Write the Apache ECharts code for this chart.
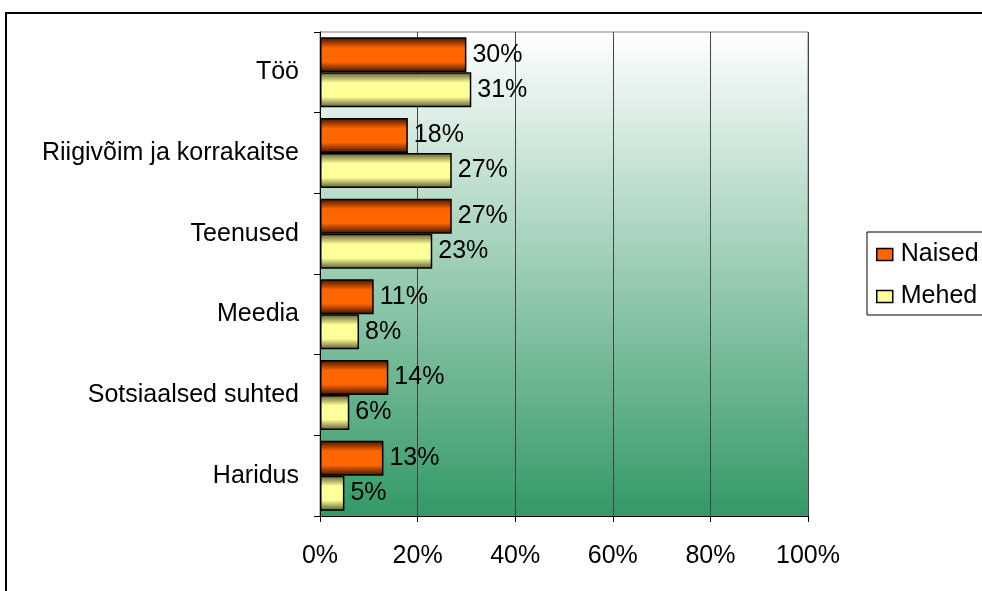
<!DOCTYPE html>
<html>
<head>
<meta charset="utf-8">
<script src="https://cdn.jsdelivr.net/npm/echarts@6/dist/echarts.min.js"></script>
<style>
html,body{margin:0;padding:0;background:#fff;}
#c{width:982px;height:591px;}
</style>
</head>
<body>
<div id="c"></div>
<script>
const categories = ['Töö', 'Riigivõim ja korrakaitse', 'Teenused', 'Meedia', 'Sotsiaalsed suhted', 'Haridus'];
const naised = [30, 18, 27, 11, 14, 13];
const mehed = [31, 27, 23, 8, 6, 5];
const seriesNames = ['Naised', 'Mehed'];
const xTicks = [0, 20, 40, 60, 80, 100];

const FONT = '"Liberation Sans", Arial, sans-serif';
const FS = 25;
const chart = echarts.init(document.getElementById('c'), null, {renderer: 'canvas'});

function grad(edge, mid) {
  return new echarts.graphic.LinearGradient(0, 0, 0, 1, [
    {offset: 0, color: edge},
    {offset: 0.3, color: mid},
    {offset: 0.7, color: mid},
    {offset: 1, color: edge}
  ]);
}

const labelCfg = {
  show: true, position: 'right', distance: 6,
  formatter: '{c}%', color: '#000', fontSize: FS, fontFamily: FONT
};

chart.setOption({
  animation: false,
  textStyle: {fontFamily: FONT},
  graphic: [{
    type: 'rect', silent: true, z: -10,
    shape: {x: 6, y: 13, width: 1000, height: 600},
    style: {fill: 'none', stroke: '#000', lineWidth: 2}
  }],
  grid: {
    left: 320, right: 174, top: 32, bottom: 75,
    show: true,
    borderColor: '#808080', borderWidth: 1,
    backgroundColor: new echarts.graphic.LinearGradient(0, 0, 0, 1, [
      {offset: 0, color: '#ffffff'},
      {offset: 1, color: '#339966'}
    ])
  },
  legend: {
    left: 867, top: 232, orient: 'vertical',
    padding: [10, 60, 6, 9],
    itemWidth: 16, itemHeight: 12, itemGap: 17,
    borderColor: '#000', borderWidth: 1,
    textStyle: {fontSize: FS, color: '#000', fontFamily: FONT, padding: [0, 0, 0, 3]},
    icon: 'rect',
    data: [
      {name: seriesNames[0], itemStyle: {color: '#ff6600', borderColor: '#000', borderWidth: 1.5}},
      {name: seriesNames[1], itemStyle: {color: '#ffff99', borderColor: '#000', borderWidth: 1.5}}
    ]
  },
  xAxis: {
    type: 'value', min: xTicks[0], max: xTicks[xTicks.length - 1], interval: 20,
    axisLine: {show: true, lineStyle: {color: '#000', width: 1}},
    axisTick: {show: true, length: 6, lineStyle: {color: '#000'}},
    axisLabel: {formatter: '{value}%', fontSize: FS, color: '#000', margin: 28, fontFamily: FONT},
    splitLine: {show: true, lineStyle: {color: '#444', width: 1}}
  },
  yAxis: {
    type: 'category', data: categories, inverse: true,
    axisLine: {show: true, lineStyle: {color: '#000', width: 1}},
    axisTick: {show: true, length: 6, lineStyle: {color: '#000'}},
    axisLabel: {fontSize: FS, color: '#000', margin: 21, fontFamily: FONT}
  },
  series: [
    {
      name: seriesNames[0], type: 'bar', data: naised,
      barWidth: 35, barGap: '0%',
      itemStyle: {color: grad('#3a1200', '#ff6600'), borderColor: '#000', borderWidth: 1.5},
      label: labelCfg
    },
    {
      name: seriesNames[1], type: 'bar', data: mehed,
      barWidth: 35, barGap: '0%',
      itemStyle: {color: grad('#5a5a30', '#ffff99'), borderColor: '#000', borderWidth: 1.5},
      label: labelCfg
    }
  ]
});
</script>
</body>
</html>
